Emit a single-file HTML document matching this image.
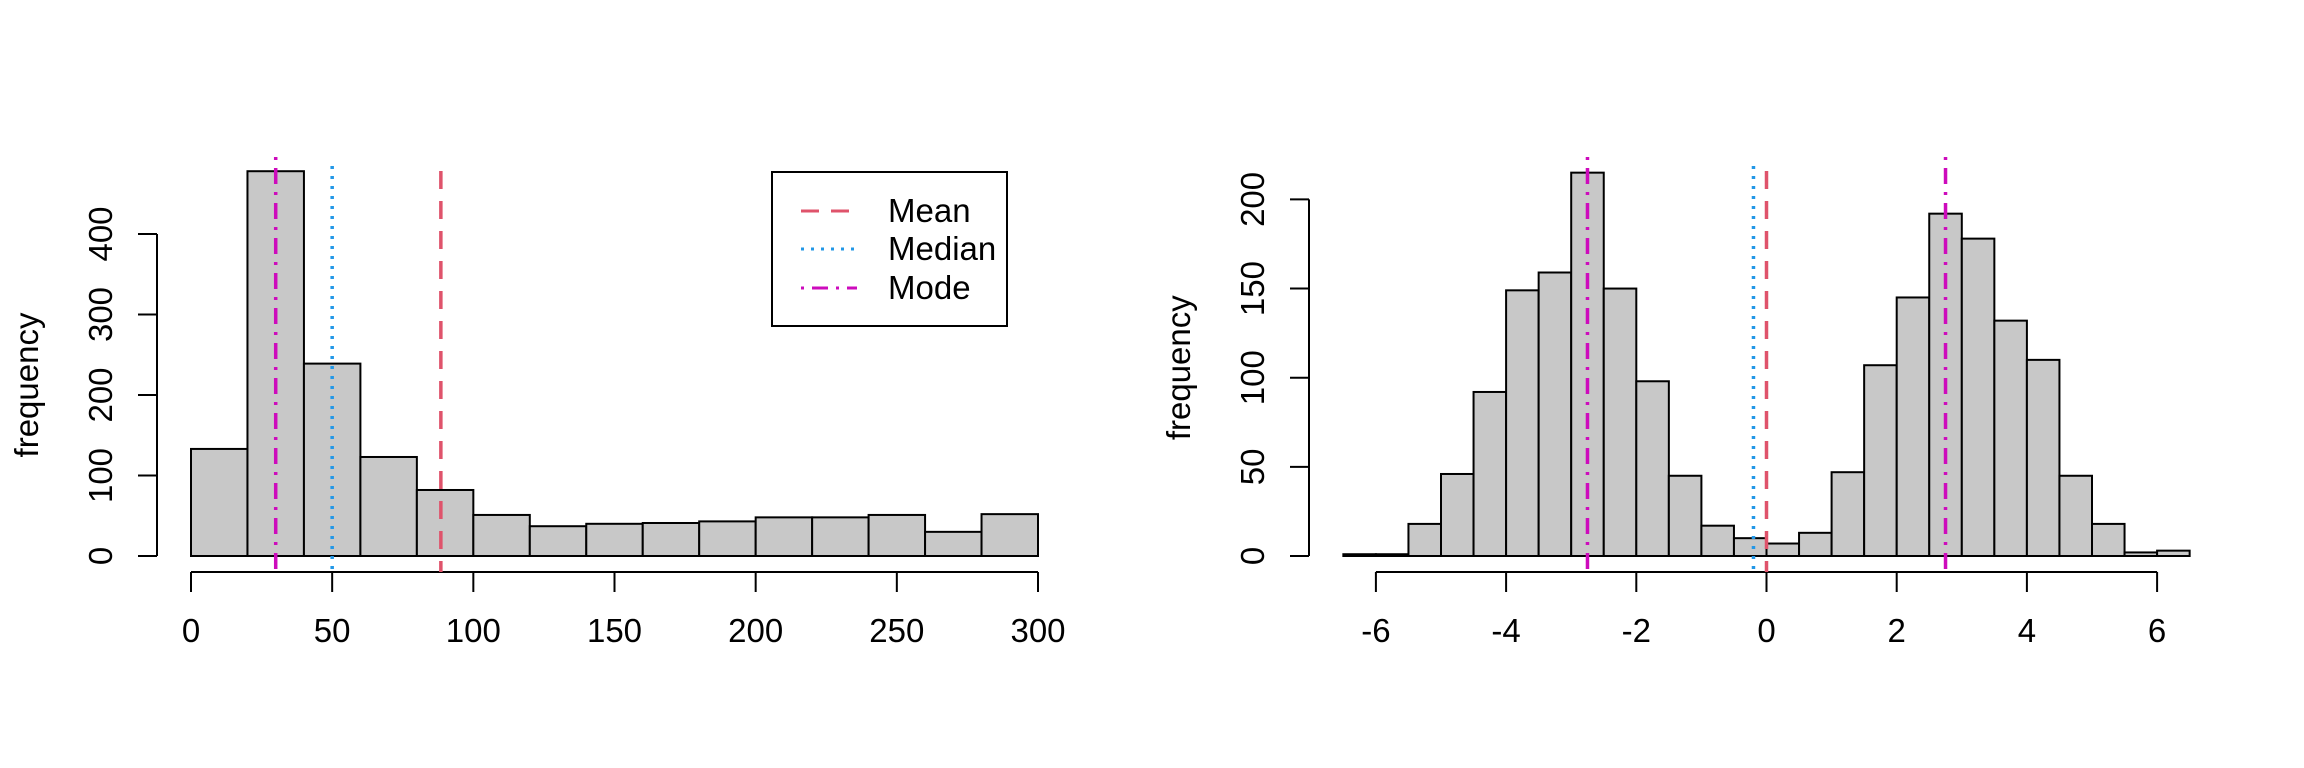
<!DOCTYPE html>
<html><head><meta charset="utf-8">
<style>
html,body{margin:0;padding:0;background:#fff;}
svg{display:block;font-family:"Liberation Sans",Arial,sans-serif;}
</style></head>
<body>
<svg id="chart" width="2304" height="768" viewBox="0 0 2304 768" xmlns="http://www.w3.org/2000/svg">
<rect width="2304" height="768" fill="#fff"/>
</svg>
<script>
// Left panel data
const leftBreaks = [0,20,40,60,80,100,120,140,160,180,200,220,240,260,280,300];
const leftCounts = [133,478,239,123,82,51,37,40,41,43,48,48,51,30,52];
const leftXTicks = [0,50,100,150,200,250,300];
const leftYTicks = [0,100,200,300,400];
const leftStats = [88.5, 50, 30]; // mean, median, mode
// Right panel data
const rightBreaks = [-6.5,-6,-5.5,-5,-4.5,-4,-3.5,-3,-2.5,-2,-1.5,-1,-0.5,0,0.5,1,1.5,2,2.5,3,3.5,4,4.5,5,5.5,6,6.5];
const rightCounts = [1,1,18,46,92,149,159,215,150,98,45,17,10,7,13,47,107,145,192,178,132,110,45,18,2,3];
const rightXTicks = [-6,-4,-2,0,2,4,6];
const rightYTicks = [0,50,100,150,200];
const rightMean = 0.0;
const rightMedian = -0.2;
const rightModes = [-2.75, 2.75];

const NS = "http://www.w3.org/2000/svg";
const svg = document.getElementById('chart');
function mk(tag, attrs, parent){
  const e = document.createElementNS(NS, tag);
  for (const k in attrs) e.setAttribute(k, attrs[k]);
  (parent||svg).appendChild(e);
  return e;
}
const FS = 33;
const COL = {mean:"#DF536B", median:"#2297E6", mode:"#CD0BBC"};
const DASH = {mean:"18 12", median:"3 7", mode:"3 8 16 8"};
const TOPS = {mean:171, median:166, mode:157};
const BASE = 556, AXY = 572;

function panel(name, breaks, counts, xTicks, yTicks, sx, sy, yAxisX, vlines){
  const g = mk('g', {});
  
  
  for (let i=0;i<counts.length;i++){
    const x0 = sx(breaks[i]), x1 = sx(breaks[i+1]);
    const r = mk('rect', {x:x0, y:sy(counts[i]), width:x1-x0, height:BASE-sy(counts[i]), fill:'#c8c8c8', stroke:'#000', 'stroke-width':2}, g);
    
    
  }
  const xa = mk('g', {}, g);
  
  
  mk('line', {x1:sx(xTicks[0]), x2:sx(xTicks[xTicks.length-1]), y1:AXY, y2:AXY, stroke:'#000','stroke-width':2}, xa);
  xTicks.forEach(t=>{
    mk('line', {x1:sx(t), x2:sx(t), y1:AXY, y2:592, stroke:'#000','stroke-width':2}, xa);
    const tx = mk('text', {x:sx(t), y:642, 'font-size':FS, 'text-anchor':'middle', fill:'#000'}, xa);
    tx.textContent = t;
    
    
  });
  const ya = mk('g', {}, g);
  
  
  mk('line', {x1:yAxisX, x2:yAxisX, y1:sy(yTicks[0]), y2:sy(yTicks[yTicks.length-1]), stroke:'#000','stroke-width':2}, ya);
  yTicks.forEach(t=>{
    mk('line', {x1:yAxisX-19, x2:yAxisX, y1:sy(t), y2:sy(t), stroke:'#000','stroke-width':2}, ya);
    const tx = mk('text', {x:0, y:0, 'font-size':FS, 'text-anchor':'middle', fill:'#000', transform:`translate(${yAxisX-45},${sy(t)}) rotate(-90)`}, ya);
    tx.textContent = t;
    
    
  });
  const yl = mk('text', {x:0, y:0, 'font-size':FS, 'text-anchor':'middle', fill:'#000', transform:`translate(${yAxisX-119},${(sy(0)+sy(yTicks[yTicks.length-1]))/2-10}) rotate(-90)`}, g);
  yl.textContent = 'frequency';
  
  
  vlines.forEach(v=>{
    const l = mk('line', {x1:sx(v.x), x2:sx(v.x), y1:TOPS[v.k], y2:AXY, stroke:COL[v.k], 'stroke-width':3.5, 'stroke-dasharray':DASH[v.k]}, g);
    
    
  });
}

const lsx = v => 191 + v*(1038-191)/300;
const lsy = v => BASE - v*(BASE-234)/400;
panel('left-histogram', leftBreaks, leftCounts, leftXTicks, leftYTicks, lsx, lsy, 157,
  [{k:'mean',x:leftStats[0]},{k:'median',x:leftStats[1]},{k:'mode',x:leftStats[2]}]);

const rsx = v => 1766.5 + v*65.1;
const rsy = v => BASE - v*(BASE-199.4)/200;
panel('right-histogram', rightBreaks, rightCounts, rightXTicks, rightYTicks, rsx, rsy, 1309,
  [{k:'mode',x:rightModes[0]},{k:'mode',x:rightModes[1]},{k:'median',x:rightMedian},{k:'mean',x:rightMean}]);

const lg = mk('g', {});


mk('rect', {x:772, y:172, width:235, height:154, fill:'#fff', stroke:'#000', 'stroke-width':2}, lg);
const legendItems = [['Mean','mean',211],['Median','median',249],['Mode','mode',288]];
legendItems.forEach(([lab,k,y])=>{
  const e = mk('g', {}, lg);
  
  
  mk('line', {x1:801, x2:857, y1:y, y2:y, stroke:COL[k], 'stroke-width':3, 'stroke-dasharray':DASH[k]}, e);
  const t = mk('text', {x:888, y:y+11, 'font-size':FS, fill:'#000'}, e);
  t.textContent = lab;
});
</script>
</body></html>
